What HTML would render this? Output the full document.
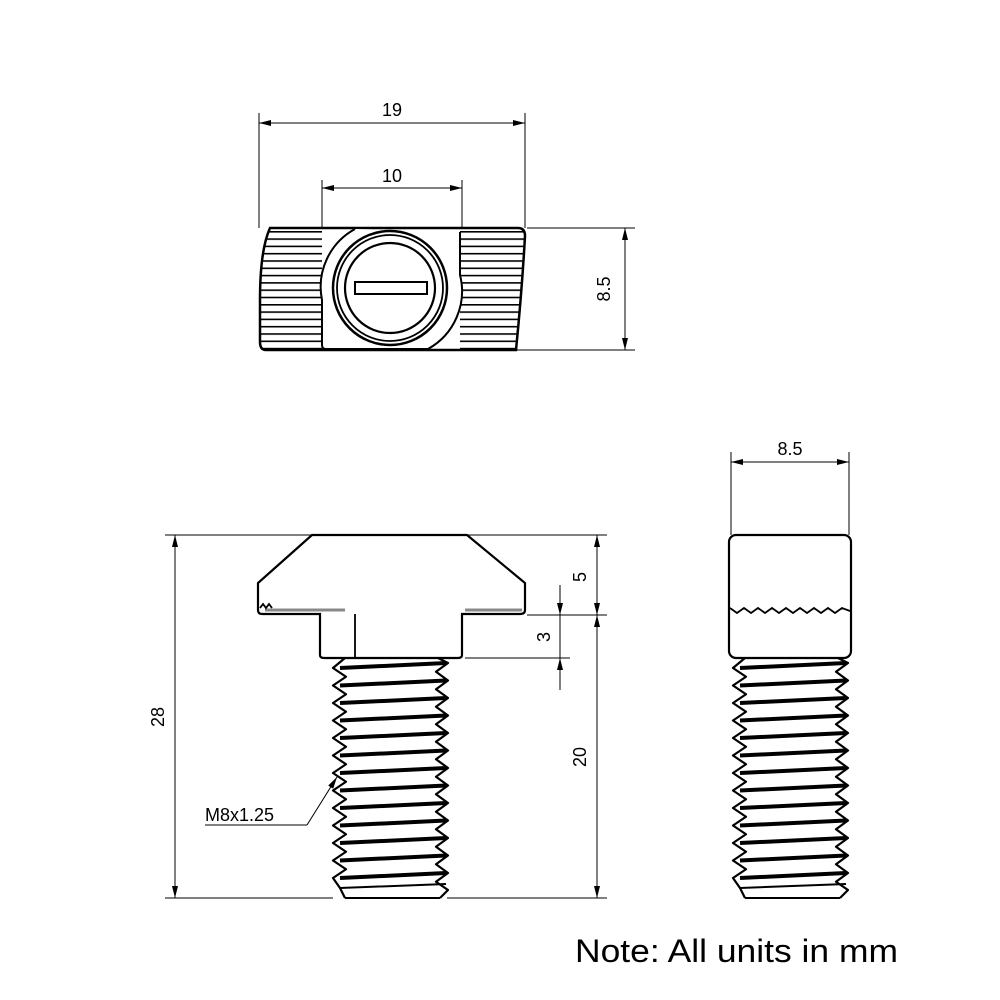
<!DOCTYPE html>
<html><head><meta charset="utf-8"><style>html,body{margin:0;padding:0;background:#fff}svg{display:block}</style></head>
<body>
<svg width="1000" height="1000" viewBox="0 0 1000 1000" xmlns="http://www.w3.org/2000/svg" font-family="Liberation Sans, Arial, sans-serif">
<defs>
<marker id="a" viewBox="0 0 12 6" refX="12" refY="3" markerWidth="12" markerHeight="6" orient="auto-start-reverse" markerUnits="userSpaceOnUse"><path d="M0,0 L12,3 L0,6 z" fill="#000"/></marker>
<pattern id="kn" width="10" height="7.3" patternUnits="userSpaceOnUse" y="231"><rect width="10" height="1.6" fill="#000"/></pattern>
<g id="thr" fill="none" stroke="#000">
<polyline stroke-width="2.2" stroke-linejoin="round" points="345,658 333,668 346,676.75 333,685.5 346,694.25 333,703 346,711.75 333,720.5 346,729.25 333,738 346,746.75 333,755.5 346,764.25 333,773 346,781.75 333,790.5 346,799.25 333,808 346,816.75 333,825.5 346,834.25 333,843 346,851.75 333,860.5 346,869.25 333,878 340,888 345,898"/>
<polyline stroke-width="2.2" stroke-linejoin="round" points="438,658 448,663 436,671.75 448,680.5 436,689.25 448,698 436,706.75 448,715.5 436,724.25 448,733 436,741.75 448,750.5 436,759.25 448,768 436,776.75 448,785.5 436,794.25 448,803 436,811.75 448,820.5 436,829.25 448,838 436,846.75 448,855.5 436,864.25 448,873 436,881.75 448,890 440,898"/>
<path stroke-width="2" d="M345,898 H440 M340,888 L446,884"/>
<path stroke-width="4" d="M340,668 L446,663 M340,685.5 L446,680.5 M340,703 L446,698 M340,720.5 L446,715.5 M340,738 L446,733 M340,755.5 L446,750.5 M340,773 L446,768 M340,790.5 L446,785.5 M340,808 L446,803 M340,825.5 L446,820.5 M340,843 L446,838 M340,860.5 L446,855.5 M340,878 L446,873"/>
</g>
</defs>

<!-- TOP VIEW -->
<path d="M270,228 H518 Q525,228 525,236 Q522,290 516,350 H266 Q260,350 260,342 V300 Q260,250 270,228 Z" fill="url(#kn)" stroke="none"/>
<rect x="322" y="229" width="138" height="120" fill="#fff"/>
<path d="M270,228 H518 Q525,228 525,236 Q522,290 516,350 H266 Q260,350 260,342 V300 Q260,250 270,228 Z" fill="none" stroke="#000" stroke-width="2.5"/>
<path d="M355,229 A66,66 0 0 0 322,300 V345 Q322,349 326,349 H428 A66,66 0 0 0 460,275 V232" fill="#fff" stroke="#000" stroke-width="2"/>
<circle cx="390" cy="288" r="57" fill="#fff" stroke="#000" stroke-width="2.5"/>
<circle cx="390" cy="288" r="53" fill="none" stroke="#000" stroke-width="1.8"/>
<circle cx="390" cy="288" r="45" fill="none" stroke="#000" stroke-width="2.2"/>
<rect x="355" y="282" width="72" height="12" fill="#fff" stroke="#000" stroke-width="2"/>
<!-- top dims -->
<g stroke="#000" stroke-width="1" fill="none">
<path d="M259,113 V228 M525,113 V228 M322,180 V229 M462,180 V229 M527,228 H635 M517,350 H635"/>
<line x1="259" y1="123" x2="525" y2="123" marker-start="url(#a)" marker-end="url(#a)"/>
<line x1="322" y1="188" x2="462" y2="188" marker-start="url(#a)" marker-end="url(#a)"/>
<line x1="625" y1="228" x2="625" y2="350" marker-start="url(#a)" marker-end="url(#a)"/>
</g>
<text x="392" y="116" font-size="18" text-anchor="middle">19</text>
<text x="392" y="182" font-size="18" text-anchor="middle">10</text>
<text transform="translate(610,289) rotate(-90)" font-size="18" text-anchor="middle">8.5</text>

<!-- SIDE VIEW -->
<path d="M312,535 H467 L525,583 V610 Q525,614 520,614 H462 V655 Q462,658 458,658 H324 Q320,658 320,655 V614 H262 Q258,614 258,610 V583 Z" fill="#fff" stroke="#000" stroke-width="2.2"/>
<path d="M265,610 H345 M465,610 H522" stroke="#888" stroke-width="3"/>
<path d="M355,614 V658 M260,608 l3,-4 l3,4 l3,-4 l3,4" stroke="#000" stroke-width="1.8" fill="none"/>
<use href="#thr"/>
<g stroke="#000" stroke-width="1" fill="none">
<path d="M165,535 H312 M165,898 H333 M467,535 H607 M527,615 H607 M465,658 H570 M447,898 H607 M560,585 V690"/>
<line x1="175" y1="535" x2="175" y2="898" marker-start="url(#a)" marker-end="url(#a)"/>
<line x1="597" y1="535" x2="597" y2="615" marker-start="url(#a)" marker-end="url(#a)"/>
<line x1="597" y1="615" x2="597" y2="898" marker-start="url(#a)" marker-end="url(#a)"/>
<line x1="560" y1="585" x2="560" y2="615" marker-end="url(#a)"/>
<line x1="560" y1="690" x2="560" y2="658" marker-end="url(#a)"/>
<line x1="307" y1="825" x2="337" y2="777" marker-end="url(#a)"/>
<path d="M205,825 H307"/>
</g>
<text transform="translate(164,717) rotate(-90)" font-size="18" text-anchor="middle">28</text>
<text transform="translate(586,577) rotate(-90)" font-size="18" text-anchor="middle">5</text>
<text transform="translate(550,637) rotate(-90)" font-size="18" text-anchor="middle">3</text>
<text transform="translate(586,757) rotate(-90)" font-size="18" text-anchor="middle">20</text>
<text x="205" y="821" font-size="18">M8x1.25</text>

<!-- RIGHT VIEW -->
<rect x="729" y="535" width="122" height="123" rx="7" fill="#fff" stroke="#000" stroke-width="2.2"/>
<polyline points="730,608 737,613 744,608 751,613 758,608 765,613 772,608 779,613 786,608 793,613 800,608 807,613 814,608 821,613 828,608 835,613 842,608 850,611" fill="none" stroke="#000" stroke-width="1.8"/>
<use href="#thr" transform="translate(400,0)"/>
<g stroke="#000" stroke-width="1" fill="none">
<path d="M731,452 V535 M849,452 V535"/>
<line x1="731" y1="462" x2="849" y2="462" marker-start="url(#a)" marker-end="url(#a)"/>
</g>
<text x="790" y="455" font-size="18" text-anchor="middle">8.5</text>

<text x="575" y="962" font-size="32" textLength="323" lengthAdjust="spacingAndGlyphs">Note: All units in mm</text>
</svg>
</body></html>
